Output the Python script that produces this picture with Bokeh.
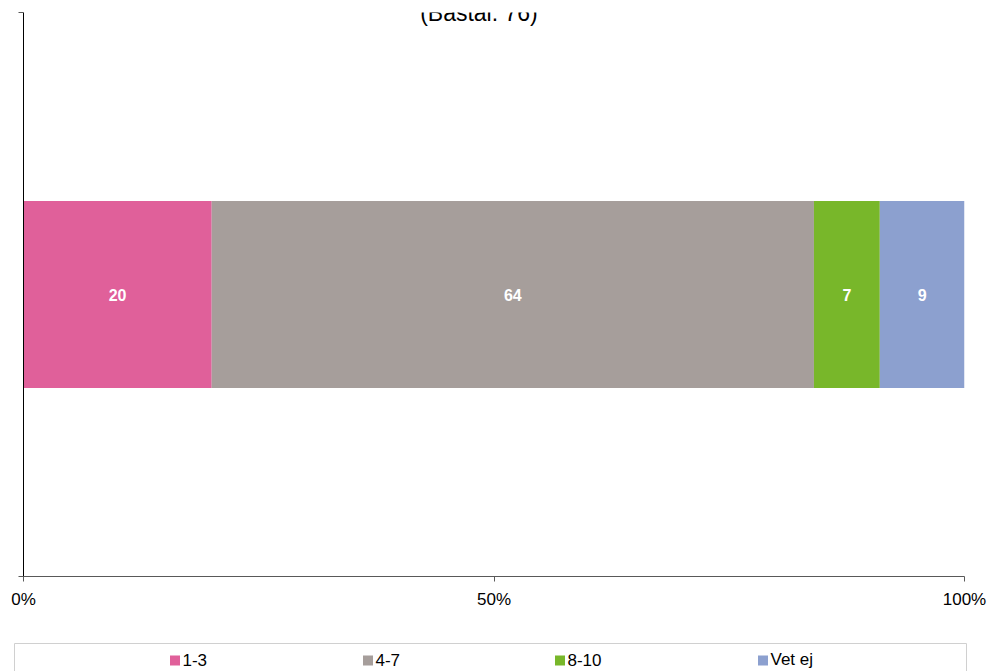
from bokeh.plotting import figure
from bokeh.models import Range1d, FixedTicker, PrintfTickFormatter, Label, ColumnDataSource
from bokeh.embed import file_html
from bokeh.resources import INLINE
from bokeh.core.properties import value

# ---- data ----
categories = ["1-3", "4-7", "8-10", "Vet ej"]
values = [20, 64, 7, 9]
colors = ["#E0609A", "#A69E9B", "#78B72A", "#8CA0CF"]
title_text = "(Bastal: 76)"
x_ticks = [0, 50, 100]

FONT = "Liberation Sans"

lefts, rights = [], []
acc = 0
for v in values:
    lefts.append(acc)
    acc += v
    rights.append(acc)
mids = [(l + r) / 2 for l, r in zip(lefts, rights)]

src = ColumnDataSource(dict(cat=categories, val=values, left=lefts, right=rights,
                            mid=mids, color=colors, y=[0.5] * len(values),
                            lbl=[str(v) for v in values]))

p = figure(width=987, height=615, x_range=Range1d(0, 100), y_range=Range1d(0, 1),
           output_backend="svg", toolbar_location=None,
           min_border_left=23, min_border_right=23, min_border_top=12, min_border_bottom=39)
p.outline_line_color = None
p.grid.visible = False
p.background_fill_color = "white"
p.border_fill_color = "white"

p.hbar(y="y", left="left", right="right", height=0.332, fill_color="color",
       line_color=None, source=src)
p.text(x="mid", y="y", text="lbl", source=src, text_color="white",
       text_font=value(FONT), text_font_style="bold", text_font_size="16px",
       text_align="center", text_baseline="middle")

# x axis
xa = p.xaxis[0]
xa.ticker = FixedTicker(ticks=x_ticks)
xa.formatter = PrintfTickFormatter(format="%d%%")
xa.major_tick_out = 5
xa.major_tick_in = 0
xa.minor_tick_line_color = None
xa.axis_line_color = "#595959"
xa.major_tick_line_color = "#595959"
xa.major_label_text_font = FONT
xa.major_label_text_font_size = "17px"
xa.major_label_text_color = "black"
xa.major_label_standoff = 8

# y axis
ya = p.yaxis[0]
ya.ticker = FixedTicker(ticks=[0, 1])
ya.major_label_overrides = {0: "", 1: ""}
ya.major_tick_out = 5
ya.major_tick_in = 0
ya.minor_tick_line_color = None
ya.axis_line_color = "black"
ya.major_tick_line_color = "#595959"
ya.major_label_text_font_size = "1px"

p.add_layout(Label(x=48.4, y=0.999, text=title_text, text_font=FONT,
                   text_font_size="23px", text_align="center",
                   text_baseline="alphabetic", text_color="black"))

# ---- legend figure (coordinates = page pixels) ----
leg_x = [169, 362, 554, 757]
p2 = figure(width=987, height=56, x_range=Range1d(0, 987), y_range=Range1d(671, 615),
            output_backend="svg", toolbar_location=None, min_border=0,
            x_axis_location=None, y_axis_location=None)
p2.outline_line_color = None
p2.grid.visible = False
p2.background_fill_color = "white"
p2.border_fill_color = "white"
p2.quad(left=14, right=966, top=643, bottom=720, fill_color=None, line_color="#D0D0D0")
lsrc = ColumnDataSource(dict(x=[x + 5.5 for x in leg_x], tx=[x + 13 for x in leg_x],
                             y=[660] * 4, ty=[659] * 4, color=colors, cat=categories))
p2.rect(x="x", y="y", width=10, height=10, fill_color="color", line_color=None, source=lsrc)
p2.text(x="tx", y="ty", text="cat", source=lsrc, text_font=value(FONT),
        text_font_size="17px", text_baseline="middle", text_align="left", text_color="black")

open("out.html", "w").write(file_html([p, p2], INLINE))
